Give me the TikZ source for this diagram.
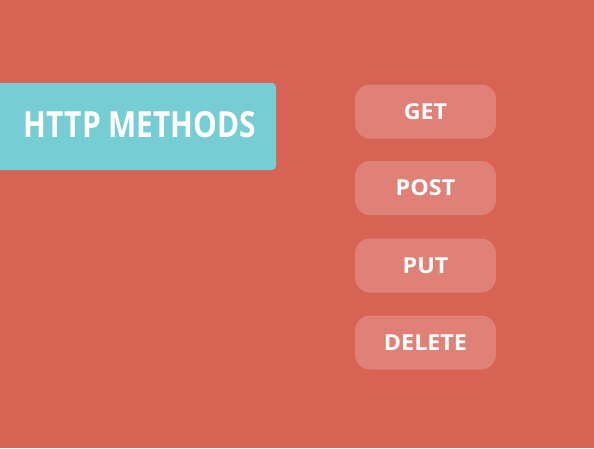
\documentclass[tikz,border=0pt]{standalone}
\usepackage{fontspec}
\setmainfont{Open Sans}
\definecolor{bg}{RGB}{215,99,84}
\definecolor{teal}{RGB}{118,206,212}
\definecolor{btn}{RGB}{223,129,119}
\begin{document}
\begin{tikzpicture}[x=1pt,y=-1pt,
  btnbox/.style={fill=btn, rounded corners=15pt, minimum width=141pt, minimum height=54pt, inner sep=0pt,
    text=white, font=\fontsize{22}{22}\selectfont\bfseries},
  titlebox/.style={fill=teal, rounded corners=4pt, minimum width=284pt, minimum height=87pt, inner sep=0pt}]
\fill[bg] (0,0) rectangle (594,448);
\useasboundingbox (0,0) rectangle (594,448);
\begin{scope}
\clip (0,0) rectangle (594,448);
\node[titlebox] (title) at (134,126.5) {};
\end{scope}
\node[text=white, font=\fontsize{36}{36}\selectfont\bfseries, inner sep=0pt] (titletext) at (140,125) {\scalebox{0.83}[1]{HTTP METHODS}};
\node[btnbox] (get) at (425.5,111.5) {\scalebox{1.06}[1]{GET}};
\node[btnbox] (post) at (425.5,188) {\scalebox{1.06}[1]{POST}};
\node[btnbox] (put) at (425.5,265.5) {\scalebox{1.06}[1]{PUT}};
\node[btnbox] (delete) at (425.5,342.5) {\scalebox{1.06}[1]{DELETE}};
\end{tikzpicture}
\end{document}
